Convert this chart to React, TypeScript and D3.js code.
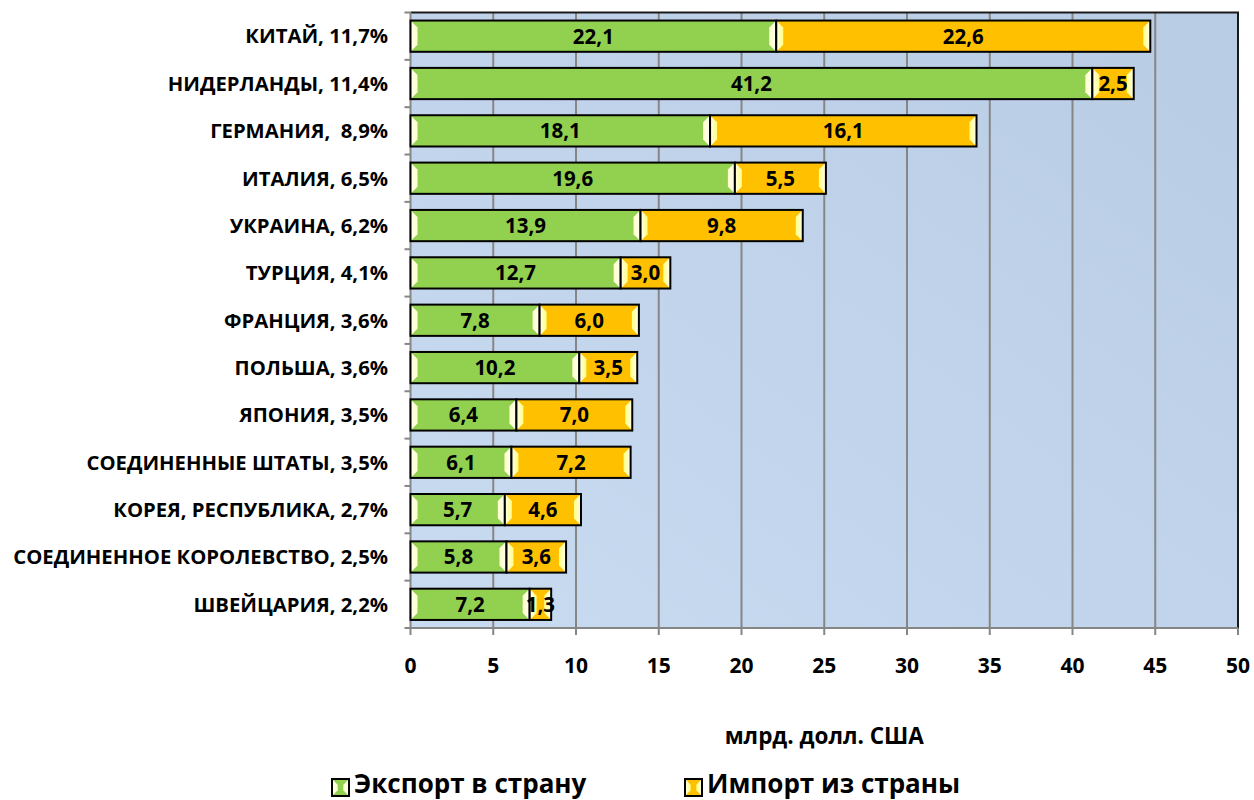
import React from "react";
import * as d3 from "d3";

const categories = [
  "КИТАЙ, 11,7%",
  "НИДЕРЛАНДЫ, 11,4%",
  "ГЕРМАНИЯ,  8,9%",
  "ИТАЛИЯ, 6,5%",
  "УКРАИНА, 6,2%",
  "ТУРЦИЯ, 4,1%",
  "ФРАНЦИЯ, 3,6%",
  "ПОЛЬША, 3,6%",
  "ЯПОНИЯ, 3,5%",
  "СОЕДИНЕННЫЕ ШТАТЫ, 3,5%",
  "КОРЕЯ, РЕСПУБЛИКА, 2,7%",
  "СОЕДИНЕННОЕ КОРОЛЕВСТВО, 2,5%",
  "ШВЕЙЦАРИЯ, 2,2%",
];
const exportValues = [22.1, 41.2, 18.1, 19.6, 13.9, 12.7, 7.8, 10.2, 6.4, 6.1, 5.7, 5.8, 7.2];
const importValues = [22.6, 2.5, 16.1, 5.5, 9.8, 3.0, 6.0, 3.5, 7.0, 7.2, 4.6, 3.6, 1.3];
const xTicks = [0, 5, 10, 15, 20, 25, 30, 35, 40, 45, 50];
const seriesNames = ["Экспорт в страну", "Импорт из страны"];
const seriesColors = ["#92d050", "#ffc000"];
const bevelColors = ["#ffffcc", "#ffff80"];

const W = 1254;
const H = 800;
const plotLeft = 410.5;
const plotRight = 1238;
const plotTop = 12.5;
const plotBottom = 628;
const FONT = "'Open Sans', 'Noto Sans', sans-serif";

const fmt = (v: number) => v.toFixed(1).replace(".", ",");

function Segment({ x0, x1, y, h, s }: { x0: number; x1: number; y: number; h: number; s: number }) {
  const w = x1 - x0;
  const b = Math.min(7, w / 3);
  const v = Math.min(7, h / 3);
  const left = [
    [x0, y],
    [x0 + b, y + v],
    [x0 + b, y + h - v],
    [x0, y + h],
  ];
  const right = [
    [x1, y],
    [x1 - b, y + v],
    [x1 - b, y + h - v],
    [x1, y + h],
  ];
  const pts = (p: number[][]) => p.map((q) => q.join(",")).join(" ");
  return (
    <g>
      <rect x={x0} y={y} width={w} height={h} fill={seriesColors[s]} />
      <polygon points={pts(left)} fill={`url(#bevL${s})`} />
      <polygon points={pts(right)} fill={`url(#bevR${s})`} />
      <rect x={x0} y={y} width={w} height={h} fill="none" stroke="#000" strokeWidth={2} />
    </g>
  );
}

export default function App() {
  const x = d3.scaleLinear().domain([0, 50]).range([plotLeft, plotRight]);
  const y = d3
    .scaleBand<string>()
    .domain(categories)
    .range([plotTop, plotBottom])
    .paddingInner(0.34)
    .paddingOuter(0.17);
  const step = y.step();
  const bh = y.bandwidth();
  const boundaries = d3.range(categories.length + 1).map((i) => plotTop + i * step);

  return (
    <svg
      width={W}
      height={H}
      style={{ position: "absolute", left: 0, top: 0, display: "block", background: "#fff" }}
    >
      <defs>
        <linearGradient id="bg" x1="1" y1="0" x2="0" y2="1">
          <stop offset="0" stopColor="#b8cce4" />
          <stop offset="1" stopColor="#c9dbf1" />
        </linearGradient>
        {[0, 1].map((s) => (
          <React.Fragment key={s}>
            <linearGradient id={`bevL${s}`} x1="0" y1="0" x2="1" y2="0">
              <stop offset="0" stopColor="#ffffee" />
              <stop offset="1" stopColor={bevelColors[s]} />
            </linearGradient>
            <linearGradient id={`bevR${s}`} x1="1" y1="0" x2="0" y2="0">
              <stop offset="0" stopColor="#ffffee" />
              <stop offset="1" stopColor={bevelColors[s]} />
            </linearGradient>
          </React.Fragment>
        ))}
      </defs>

      <rect
        x={plotLeft}
        y={plotTop}
        width={plotRight - plotLeft}
        height={plotBottom - plotTop}
        fill="url(#bg)"
      />

      {xTicks.slice(1).map((t) => (
        <line key={t} x1={x(t)} x2={x(t)} y1={plotTop} y2={plotBottom} stroke="#868686" strokeWidth={2} />
      ))}

      <path
        d={`M${plotLeft},${plotTop}H${plotRight}V${plotBottom}`}
        fill="none"
        stroke="#1a1a1a"
        strokeWidth={2}
      />

      <line x1={plotLeft} x2={plotLeft} y1={plotTop} y2={plotBottom + 1} stroke="#868686" strokeWidth={2} />
      <line x1={plotLeft} x2={plotRight} y1={plotBottom} y2={plotBottom} stroke="#868686" strokeWidth={2} />
      {boundaries.map((b, i) => (
        <line key={i} x1={plotLeft - 6} x2={plotLeft} y1={b} y2={b} stroke="#868686" strokeWidth={2} />
      ))}
      {xTicks.map((t) => (
        <line key={t} x1={x(t)} x2={x(t)} y1={plotBottom} y2={plotBottom + 7} stroke="#868686" strokeWidth={2} />
      ))}

      {categories.map((c, i) => {
        const yy = y(c)!;
        const e = exportValues[i];
        const im = importValues[i];
        return (
          <g key={c}>
            <Segment x0={x(0)} x1={x(e)} y={yy} h={bh} s={0} />
            <Segment x0={x(e)} x1={x(e + im)} y={yy} h={bh} s={1} />
          </g>
        );
      })}

      {categories.map((c, i) => {
        const yy = y(c)! + bh / 2;
        const e = exportValues[i];
        const im = importValues[i];
        return (
          <g key={c} fontFamily={FONT} fontWeight="bold" fontSize={20.5} fill="#000" textAnchor="middle">
            <text x={(x(0) + x(e)) / 2} y={yy} dy="0.36em">
              {fmt(e)}
            </text>
            <text x={(x(e) + x(e + im)) / 2} y={yy} dy="0.36em">
              {fmt(im)}
            </text>
          </g>
        );
      })}

      {categories.map((c) => (
        <text
          key={c}
          x={388}
          y={y(c)! + bh / 2}
          dy="0.36em"
          textAnchor="end"
          fontFamily={FONT}
          fontWeight="bold"
          fontSize={20.3}
          style={{ whiteSpace: "pre" }}
        >
          {c}
        </text>
      ))}

      {xTicks.map((t) => (
        <text
          key={t}
          x={x(t)}
          y={665}
          dy="0.36em"
          textAnchor="middle"
          fontFamily={FONT}
          fontWeight="bold"
          fontSize={21}
        >
          {t}
        </text>
      ))}

      <text
        x={(plotLeft + plotRight) / 2}
        y={736}
        dy="0.36em"
        textAnchor="middle"
        fontFamily={FONT}
        fontWeight="bold"
        fontSize={22.5}
      >
        млрд. долл. США
      </text>

      {seriesNames.map((n, s) => {
        const lx = s === 0 ? 332 : 685;
        const ly = 779;
        return (
          <g key={n}>
            <Segment x0={lx} x1={lx + 17} y={ly} h={17} s={s} />
            <text x={lx + 22} y={793} fontFamily={FONT} fontWeight="bold" fontSize={26}>
              {n}
            </text>
          </g>
        );
      })}
    </svg>
  );
}
